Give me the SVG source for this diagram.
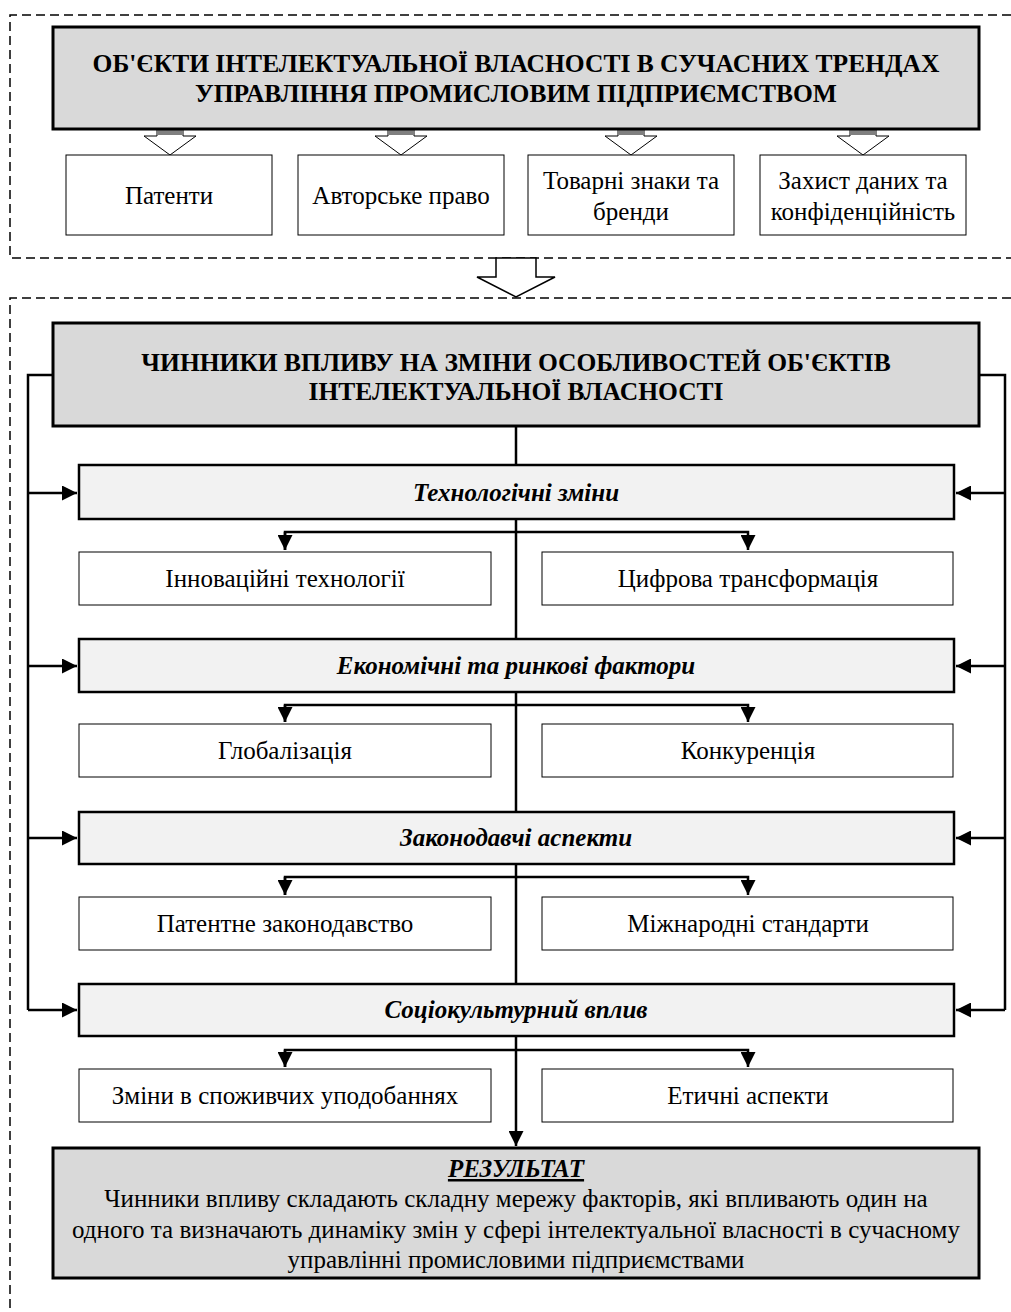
<svg xmlns="http://www.w3.org/2000/svg" width="1011" height="1312" viewBox="0 0 1011 1312">
<style>
text{font-family:"Liberation Serif","Times New Roman",serif;fill:#000;text-anchor:middle}
.t{font-size:25.5px;font-weight:bold}
.c{font-size:25px;font-weight:bold;font-style:italic}
.s{font-size:25px}
.dash{fill:none;stroke:#000;stroke-width:1.5;stroke-dasharray:9 5}
.title{fill:#d9d9d9;stroke:#000;stroke-width:3}
.cat{fill:#f2f2f2;stroke:#000;stroke-width:2.5}
.sub{fill:#fff;stroke:#000;stroke-width:1}
.ln{fill:none;stroke:#000;stroke-width:2.5}
.hol{fill:#fff;stroke:#000;stroke-width:1}
</style>
<defs>
<marker id="ah" viewBox="0 0 10 10" refX="10" refY="5" markerWidth="6" markerHeight="6" markerUnits="strokeWidth" orient="auto">
<path d="M0,0 L10,5 L0,10 z" fill="#000"/>
</marker>
</defs>
<rect width="1011" height="1312" fill="#fff"/>
<!-- dashed frames -->
<path class="dash" d="M1011,15 H10 V258 H1011"/>
<path class="dash" d="M1011,298 H10 V1312"/>

<g id="connectors">
<!-- top hollow block arrows -->
<path class="hol" d="M157,130 H183 V136 H196 L170,155 L144,136 H157 Z"/>
<rect x="157" y="130" width="26" height="5" fill="#808080"/>
<path class="hol" d="M388,130 H414 V136 H427 L401,155 L375,136 H388 Z"/>
<rect x="388" y="130" width="26" height="5" fill="#808080"/>
<path class="hol" d="M618,130 H644 V136 H657 L631,155 L605,136 H618 Z"/>
<rect x="618" y="130" width="26" height="5" fill="#808080"/>
<path class="hol" d="M850,130 H876 V136 H889 L863,155 L837,136 H850 Z"/>
<rect x="850" y="130" width="26" height="5" fill="#808080"/>
<!-- big hollow arrow between frames -->
<path fill="#fff" stroke="#000" stroke-width="1.5" d="M496,258 H536 V277 H555 L516,297 L477,277 H496 Z"/>

<!-- side feeders -->
<path class="ln" d="M53,375 H28 V1010"/>
<path class="ln" d="M979,375 H1005 V1010"/>
<path class="ln" d="M28,493 H77" marker-end="url(#ah)"/>
<path class="ln" d="M28,666 H77" marker-end="url(#ah)"/>
<path class="ln" d="M28,838 H77" marker-end="url(#ah)"/>
<path class="ln" d="M28,1010 H77" marker-end="url(#ah)"/>
<path class="ln" d="M1005,493 H956" marker-end="url(#ah)"/>
<path class="ln" d="M1005,666 H956" marker-end="url(#ah)"/>
<path class="ln" d="M1005,838 H956" marker-end="url(#ah)"/>
<path class="ln" d="M1005,1010 H956" marker-end="url(#ah)"/>

<!-- central trunk -->
<path class="ln" d="M516,426 V1146" marker-end="url(#ah)"/>

<!-- branches -->
<path class="ln" d="M285,550 V532 H748 V550" marker-end="url(#ah)"/>
<path class="ln" d="M285,532 V550" marker-end="url(#ah)"/>
<path class="ln" d="M285,722 V705 H748 V722" marker-end="url(#ah)"/>
<path class="ln" d="M285,705 V722" marker-end="url(#ah)"/>
<path class="ln" d="M285,895 V877 H748 V895" marker-end="url(#ah)"/>
<path class="ln" d="M285,877 V895" marker-end="url(#ah)"/>
<path class="ln" d="M285,1067 V1050 H748 V1067" marker-end="url(#ah)"/>
<path class="ln" d="M285,1050 V1067" marker-end="url(#ah)"/>
</g>

<g id="n_top_title">
<rect class="title" x="53" y="27" width="926" height="102"/>
<text class="t" x="516" y="72">ОБ'ЄКТИ ІНТЕЛЕКТУАЛЬНОЇ ВЛАСНОСТІ В СУЧАСНИХ ТРЕНДАХ</text>
<text class="t" x="516" y="102">УПРАВЛІННЯ ПРОМИСЛОВИМ ПІДПРИЄМСТВОМ</text>
</g>
<g id="n_patents">
<rect class="sub" x="66" y="155" width="206" height="80"/>
<text class="s" x="169" y="204">Патенти</text>
</g>
<g id="n_copyright">
<rect class="sub" x="298" y="155" width="206" height="80"/>
<text class="s" x="401" y="204">Авторське право</text>
</g>
<g id="n_trademarks">
<rect class="sub" x="528" y="155" width="206" height="80"/>
<text class="s" x="631" y="189">Товарні знаки та</text>
<text class="s" x="631" y="220">бренди</text>
</g>
<g id="n_dataprot">
<rect class="sub" x="760" y="155" width="206" height="80"/>
<text class="s" x="863" y="189">Захист даних та</text>
<text class="s" x="863" y="220">конфіденційність</text>
</g>

<g id="n_factors_title">
<rect class="title" x="53" y="323" width="926" height="103"/>
<text class="t" x="516" y="371">ЧИННИКИ ВПЛИВУ НА ЗМІНИ ОСОБЛИВОСТЕЙ ОБ'ЄКТІВ</text>
<text class="t" x="516" y="400">ІНТЕЛЕКТУАЛЬНОЇ ВЛАСНОСТІ</text>
</g>

<g id="n_tech">
<rect class="cat" x="79" y="465" width="875" height="54"/>
<text class="c" x="516" y="501">Технологічні зміни</text>
</g>
<g id="n_innov">
<rect class="sub" x="79" y="552" width="412" height="53"/>
<text class="s" x="285" y="587">Інноваційні технології</text>
</g>
<g id="n_digital">
<rect class="sub" x="542" y="552" width="411" height="53"/>
<text class="s" x="748" y="587">Цифрова трансформація</text>
</g>

<g id="n_econ">
<rect class="cat" x="79" y="639" width="875" height="53"/>
<text class="c" x="516" y="674">Економічні та ринкові фактори</text>
</g>
<g id="n_global">
<rect class="sub" x="79" y="724" width="412" height="53"/>
<text class="s" x="285" y="759">Глобалізація</text>
</g>
<g id="n_compet">
<rect class="sub" x="542" y="724" width="411" height="53"/>
<text class="s" x="748" y="759">Конкуренція</text>
</g>

<g id="n_legal">
<rect class="cat" x="79" y="812" width="875" height="52"/>
<text class="c" x="516" y="846">Законодавчі аспекти</text>
</g>
<g id="n_patlaw">
<rect class="sub" x="79" y="897" width="412" height="53"/>
<text class="s" x="285" y="932">Патентне законодавство</text>
</g>
<g id="n_intstd">
<rect class="sub" x="542" y="897" width="411" height="53"/>
<text class="s" x="748" y="932">Міжнародні стандарти</text>
</g>

<g id="n_social">
<rect class="cat" x="79" y="984" width="875" height="52"/>
<text class="c" x="516" y="1018">Соціокультурний вплив</text>
</g>
<g id="n_consumer">
<rect class="sub" x="79" y="1069" width="412" height="53"/>
<text class="s" x="285" y="1104">Зміни в споживчих уподобаннях</text>
</g>
<g id="n_ethics">
<rect class="sub" x="542" y="1069" width="411" height="53"/>
<text class="s" x="748" y="1104">Етичні аспекти</text>
</g>

<g id="n_result">
<rect class="title" x="53" y="1148" width="926" height="130"/>
<text class="c" x="516" y="1177" text-decoration="underline">РЕЗУЛЬТАТ</text>
<text class="s" x="516" y="1207">Чинники впливу складають складну мережу факторів, які впливають один на</text>
<text class="s" x="516" y="1238">одного та визначають динаміку змін у сфері інтелектуальної власності в сучасному</text>
<text class="s" x="516" y="1268">управлінні промисловими підприємствами</text>
</g>
</svg>
